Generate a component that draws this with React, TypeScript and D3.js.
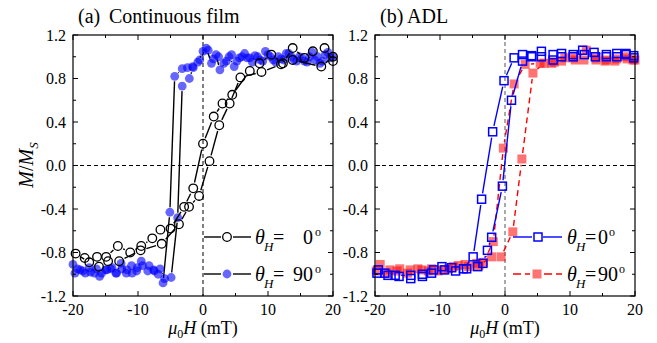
import React from 'react';
import * as d3 from 'd3';

// ---------- data ----------
const xTickValues = [-20, -15, -10, -5, 0, 5, 10, 15, 20];
const xLabelValues = [-20, -10, 0, 10, 20];
const yTickValues = [-1.2, -1.0, -0.8, -0.6, -0.4, -0.2, 0, 0.2, 0.4, 0.6, 0.8, 1.0, 1.2];
const yLabelValues = [-1.2, -0.8, -0.4, 0, 0.4, 0.8, 1.2];

// (a) continuous film, theta_H = 0 (open circles)
const filmCircDesc: [number, number][] = [
  [20, 0.96], [18.7, 1.08], [16.9, 1.05], [15.6, 0.99], [13.8, 1.08], [12.3, 0.94], [10.5, 1.02],
  [8.7, 0.94], [7.2, 0.87], [4.5, 0.65], [3.0, 0.57], [1.65, 0.45], [0.0, 0.2], [-1.5, -0.21],
  [-2.9, -0.38], [-5.0, -0.58], [-6.55, -0.59], [-7.8, -0.67], [-9.5, -0.74], [-11.2, -0.8],
  [-13.1, -0.74], [-14.9, -0.84], [-16.3, -0.84], [-18.2, -0.85], [-19.6, -0.81],
];
const filmCircAsc: [number, number][] = [
  [-17.5, -0.89], [-16.0, -0.93], [-14.6, -0.88], [-12.9, -0.88], [-9.6, -0.78], [-6.35, -0.72],
  [-3.7, -0.54], [-2.15, -0.38], [-0.6, -0.28], [1.0, 0.04], [2.5, 0.37], [4.1, 0.57], [5.75, 0.81],
  [9.0, 0.86], [12.0, 0.93], [13.8, 0.97], [18.2, 0.91], [20, 1.0],
];
// (a) continuous film, theta_H = 90 (filled blue circles)
const filmDotDesc: [number, number][] = [
  [20, 1.0], [19.2, 1.04], [18.4, 0.96], [17.6, 1.0], [16.8, 1.04], [16, 0.95], [15.2, 0.99],
  [14.4, 0.96], [13.6, 1.0], [12.8, 1.03], [12, 0.98], [11.2, 0.95], [10.4, 1.0], [9.6, 1.05],
  [8.8, 0.97], [8, 1.01], [7.2, 0.99], [6.4, 1.03], [5.6, 0.99], [4.8, 0.91], [4, 1.0], [3.2, 0.94],
  [2.4, 1.0], [1.6, 0.98], [0.8, 1.06], [0, 1.05], [-0.8, 0.95], [-1.6, 0.91], [-2.4, 0.9],
  [-3.2, 0.89], [-4.35, 0.82], [-5.1, -0.43], [-6.15, -1.08], [-6.9, -1.0], [-7.6, -0.96],
  [-8.5, -0.97], [-9.3, -0.92], [-10.2, -0.97], [-11.0, -0.92], [-11.8, -0.99], [-12.6, -0.9],
  [-13.4, -0.99], [-14.2, -0.95], [-15.0, -0.96], [-15.9, -1.02], [-16.7, -0.99], [-17.5, -0.94],
  [-18.5, -0.97], [-19.3, -0.95], [-20, -0.91],
];
const filmDotAsc: [number, number][] = [
  [-19.7, -0.99], [-18.9, -0.96], [-18.1, -0.99], [-17.3, -0.98], [-16.4, -0.95], [-15.6, -0.99],
  [-14.8, -0.96], [-14.0, -0.94], [-13.3, -0.99], [-12.5, -0.95], [-11.7, -0.96], [-10.9, -0.99],
  [-10.1, -0.94], [-9.5, -0.88], [-8.3, -0.92], [-7.5, -0.97], [-6.6, -0.95], [-5.9, -1.04],
  [-4.9, -1.03], [-3.9, -0.48], [-3.2, 0.73], [-2.1, 0.8], [-1.5, 0.9], [-0.5, 0.97], [0.5, 1.08],
  [1.3, 0.94], [2.0, 1.02], [2.6, 0.88], [3.6, 0.96], [4.4, 1.02], [5.2, 0.96], [6.0, 1.0],
  [6.8, 0.99], [7.6, 0.95], [8.4, 1.0], [9.2, 0.96], [10.0, 1.02], [10.8, 0.97], [11.6, 1.0],
  [12.4, 0.97], [13.2, 1.03], [14.0, 0.97], [14.8, 1.0], [15.6, 0.96], [16.4, 1.0], [17.2, 0.97],
  [18.0, 0.94], [18.8, 1.02], [19.6, 0.99],
];

// (b) ADL, theta_H = 0 (open blue squares)
const adlOpenDesc: [number, number][] = [
  [19.8, 1.01], [18.6, 1.03], [17.2, 1.03], [15.6, 1.02], [13.7, 1.04], [11.95, 1.06], [10.5, 1.02],
  [8.7, 1.03], [7.4, 1.02], [5.6, 1.05], [4.1, 1.01], [2.7, 1.02], [1.4, 0.99], [-0.15, 0.78],
  [-1.9, 0.31], [-3.6, -0.31], [-4.9, -0.84], [-6.4, -0.95], [-8.2, -0.94], [-9.7, -0.93],
  [-11.3, -0.99], [-12.7, -1.0], [-14.5, -1.01], [-16.9, -1.01], [-18.5, -0.99], [-19.5, -0.96],
];
const adlOpenAsc: [number, number][] = [
  [-19.7, -0.99], [-18.0, -1.01], [-16.3, -1.02], [-14.5, -1.04], [-12.7, -1.02], [-11.0, -0.96],
  [-9.3, -0.96], [-7.6, -0.97], [-5.9, -0.95], [-4.2, -0.93], [-3.4, -0.9], [-2.7, -0.78],
  [-2.05, -0.66], [-0.4, -0.19], [1.0, 0.6], [2.7, 0.96], [4.1, 1.0], [5.6, 1.0], [7.4, 0.97],
  [8.7, 1.0], [10.5, 1.0], [12.2, 1.02], [13.9, 1.0], [15.6, 1.0], [17.2, 1.0], [18.6, 1.02],
  [19.8, 0.99],
];
// (b) ADL, theta_H = 90 (filled red squares)
const adlFillDesc: [number, number][] = [
  [19.7, 0.97], [18.5, 1.0], [16.9, 0.96], [15.4, 0.96], [14.0, 0.97], [12.15, 0.97], [10.5, 0.99],
  [8.7, 0.96], [7.2, 0.94], [5.4, 0.94], [3.1, 0.93], [1.4, 0.75], [-0.25, 0.16], [-1.8, -0.7],
  [-3.3, -0.89], [-4.35, -0.9], [-6.15, -0.91], [-7.95, -0.93], [-9.5, -0.96], [-11.3, -0.95],
  [-12.8, -0.96], [-14.6, -0.96], [-16.2, -0.95], [-17.7, -0.96], [-19.2, -0.91],
];
const adlFillAsc: [number, number][] = [
  [-19.8, -0.97], [-18.2, -0.99], [-16.6, -0.97], [-15.0, -0.99], [-13.4, -0.95], [-11.8, -0.97],
  [-10.3, -0.97], [-8.7, -0.95], [-7.2, -0.92], [-5.6, -0.93], [-4.0, -0.92], [-2.05, -0.84],
  [-0.6, -0.84], [1.2, -0.61], [2.6, 0.06], [4.3, 0.85], [6.0, 0.94], [7.6, 0.95], [9.2, 0.99],
  [10.8, 0.97], [12.5, 1.06], [14.0, 0.99], [15.6, 0.97], [17.2, 0.98], [18.8, 0.98], [20, 0.97],
];

// ---------- layout ----------
const W = 657;
const H = 343;
const TOP = 35;
const BOTTOM = 296;
const FONT = '"Liberation Serif"';
const fs = (size: number, italic = false): React.CSSProperties => ({
  fontFamily: FONT,
  fontSize: size + 'px',
  fontStyle: italic ? 'italic' : 'normal',
});

const yScale = d3.scaleLinear().domain([-1.2, 1.2]).range([BOTTOM, TOP]);

type Pt = [number, number];

function gapSegments(pts: Pt[], sx: d3.ScaleLinear<number, number>, gap: number) {
  const segs: { x1: number; y1: number; x2: number; y2: number }[] = [];
  for (let i = 0; i < pts.length - 1; i++) {
    const ax = sx(pts[i][0]), ay = yScale(pts[i][1]);
    const bx = sx(pts[i + 1][0]), by = yScale(pts[i + 1][1]);
    const dx = bx - ax, dy = by - ay;
    const d = Math.hypot(dx, dy);
    if (d <= 2 * gap + 0.5) continue;
    const ux = dx / d, uy = dy / d;
    segs.push({ x1: ax + ux * gap, y1: ay + uy * gap, x2: bx - ux * gap, y2: by - uy * gap });
  }
  return segs;
}

type MarkerKind = 'openCircle' | 'blueDot' | 'openSquare' | 'redSquare';

function Marker({ kind, x, y }: { kind: MarkerKind; x: number; y: number }) {
  if (kind === 'openCircle')
    return <circle cx={x} cy={y} r={4.3} fill="none" stroke="#000" strokeWidth={1.3} />;
  if (kind === 'blueDot')
    return <circle cx={x} cy={y} r={4.4} fill="#0000ff" fillOpacity={0.6} />;
  if (kind === 'openSquare')
    return <rect x={x - 4} y={y - 4} width={8} height={8} fill="none" stroke="#0000ff" strokeWidth={1.5} />;
  return <rect x={x - 4.5} y={y - 4.5} width={9} height={9} fill="#ff0000" fillOpacity={0.55} />;
}

interface SeriesDef {
  points: Pt[];
  kind: MarkerKind;
  lineColor: string;
  dash?: string;
  gap: number;
}

function Series({ s, sx }: { s: SeriesDef; sx: d3.ScaleLinear<number, number> }) {
  const segs = gapSegments(s.points, sx, s.gap);
  return (
    <g>
      {segs.map((g, i) => (
        <line key={'l' + i} x1={g.x1} y1={g.y1} x2={g.x2} y2={g.y2} stroke={s.lineColor}
          strokeWidth={1.4} strokeDasharray={s.dash} />
      ))}
      {s.points.map((p, i) => (
        <Marker key={'m' + i} kind={s.kind} x={sx(p[0])} y={yScale(p[1])} />
      ))}
    </g>
  );
}

function Theta({ x, y, num, eqX, numX, anchorEnd }: { x: number; y: number; num: string; eqX: number; numX: number; anchorEnd: boolean }) {
  const numW = num.length * 10;
  const supX = anchorEnd ? numX + 2 : numX + numW + 1;
  return (
    <g fill="#000">
      <text x={x} y={y} style={fs(20, true)}>θ</text>
      <text x={x + 9} y={y + 7} style={fs(13, true)}>H</text>
      <text x={eqX} y={y} style={fs(20)}>=</text>
      <text x={numX} y={y} style={fs(20)} textAnchor={anchorEnd ? 'end' : 'start'}>{num}</text>
      <text x={supX} y={y - 8} style={fs(12)}>o</text>
    </g>
  );
}

function Panel({ x0, x1, tag, title, titleX, series, vColor, legend }: {
  x0: number; x1: number; tag: string; title: string; titleX: number; series: SeriesDef[]; vColor: string;
  legend: React.ReactNode;
}) {
  const sx = d3.scaleLinear().domain([-20, 20]).range([x0, x1]);
  return (
    <g>
      {/* zero lines */}
      <line x1={x0} x2={x1} y1={yScale(0)} y2={yScale(0)} stroke="#000" strokeWidth={1} strokeDasharray="4,3" />
      <line x1={sx(0)} x2={sx(0)} y1={TOP} y2={BOTTOM} stroke={vColor} strokeWidth={1} strokeDasharray="4,3" />
      {series.map((s, i) => <Series key={i} s={s} sx={sx} />)}
      {legend}
      {/* ticks */}
      {xTickValues.map((v) => {
        const len = v % 10 === 0 ? 5 : 3;
        return (
          <g key={'xt' + v}>
            <line x1={sx(v)} x2={sx(v)} y1={BOTTOM} y2={BOTTOM - len} stroke="#000" strokeWidth={1} />
            <line x1={sx(v)} x2={sx(v)} y1={TOP} y2={TOP + len} stroke="#000" strokeWidth={1} />
          </g>
        );
      })}
      {yTickValues.map((v, i) => {
        const len = i % 2 === 0 ? 5 : 3;
        return (
          <g key={'yt' + i}>
            <line x1={x0} x2={x0 + len} y1={yScale(v)} y2={yScale(v)} stroke="#000" strokeWidth={1} />
            <line x1={x1} x2={x1 - len} y1={yScale(v)} y2={yScale(v)} stroke="#000" strokeWidth={1} />
          </g>
        );
      })}
      <rect x={x0} y={TOP} width={x1 - x0} height={BOTTOM - TOP} fill="none" stroke="#000" strokeWidth={1.2} />
      {/* labels */}
      {xLabelValues.map((v) => (
        <text key={'xl' + v} x={sx(v)} y={BOTTOM + 19} style={fs(16)} textAnchor="middle">
          {v < 0 ? '-' + Math.abs(v) : String(v)}
        </text>
      ))}
      {yLabelValues.map((v) => (
        <text key={'yl' + v} x={x0 - 7} y={yScale(v) + 5.5} style={fs(16)} textAnchor="end">
          {v < 0 ? '-' + Math.abs(v).toFixed(1) : v.toFixed(1)}
        </text>
      ))}
      <text x={sx(0)} y={334} style={fs(18)} textAnchor="middle">
        <tspan style={fs(18, true)}>μ</tspan>
        <tspan style={fs(12)} dy={4}>0</tspan>
        <tspan style={fs(18, true)} dy={-4}>H</tspan>
        <tspan style={fs(18)}> (mT)</tspan>
      </text>
      <text x={x0 + 5} y={23} style={fs(20)}>{tag}</text>
      <text x={titleX} y={23} style={fs(20)}>{title}</text>
    </g>
  );
}

export default function App() {
  const leftSeries: SeriesDef[] = [
    { points: [...filmDotDesc, ...filmDotAsc], kind: 'blueDot', lineColor: '#000', gap: 5 },
    { points: [...filmCircDesc, ...filmCircAsc], kind: 'openCircle', lineColor: '#000', gap: 6 },
  ];
  const rightSeries: SeriesDef[] = [
    { points: [...adlFillDesc, ...adlFillAsc], kind: 'redSquare', lineColor: '#ff0000', dash: '6,4', gap: 6 },
    { points: [...adlOpenDesc, ...adlOpenAsc], kind: 'openSquare', lineColor: '#0000ff', gap: 6 },
  ];

  const leftLegend = (
    <g>
      <line x1={204} x2={221} y1={237} y2={237} stroke="#000" strokeWidth={1.4} />
      <line x1={233} x2={251} y1={237} y2={237} stroke="#000" strokeWidth={1.4} />
      <Marker kind="openCircle" x={227} y={237} />
      <Theta x={255} y={244} num="0" eqX={273} numX={313} anchorEnd={true} />
      <line x1={204} x2={221} y1={274} y2={274} stroke="#000" strokeWidth={1.4} />
      <line x1={233} x2={251} y1={274} y2={274} stroke="#000" strokeWidth={1.4} />
      <Marker kind="blueDot" x={227} y={274} />
      <Theta x={255} y={281} num="90" eqX={273} numX={313} anchorEnd={true} />
    </g>
  );
  const rightLegend = (
    <g>
      <line x1={513} x2={532} y1={237} y2={237} stroke="#0000ff" strokeWidth={1.4} />
      <line x1={543} x2={562} y1={237} y2={237} stroke="#0000ff" strokeWidth={1.4} />
      <Marker kind="openSquare" x={538} y={237} />
      <Theta x={567} y={244} num="0" eqX={585} numX={598} anchorEnd={false} />
      <line x1={513} x2={530} y1={274} y2={274} stroke="#ff0000" strokeWidth={1.4} strokeDasharray="8,4" />
      <line x1={544} x2={562} y1={274} y2={274} stroke="#ff0000" strokeWidth={1.4} strokeDasharray="8,4" />
      <Marker kind="redSquare" x={537} y={274} />
      <Theta x={567} y={281} num="90" eqX={585} numX={598} anchorEnd={false} />
    </g>
  );

  return (
    <svg width={W} height={H} style={{ position: 'absolute', left: 0, top: 0, background: '#fff' }}>
      <rect width={W} height={H} fill="#fff" />
      <Panel x0={73} x1={333} tag="(a)" title="Continuous film" titleX={109} series={leftSeries} vColor="#000" legend={leftLegend} />
      <Panel x0={375} x1={635} tag="(b)" title="ADL" titleX={407} series={rightSeries} vColor="#555" legend={rightLegend} />
      <text transform="translate(33,165) rotate(-90)" style={fs(20)} textAnchor="middle">
        <tspan style={fs(20, true)}>M</tspan>
        <tspan style={fs(20)}>/</tspan>
        <tspan style={fs(20, true)}>M</tspan>
        <tspan style={fs(13, true)} dy={5}>S</tspan>
      </text>
    </svg>
  );
}
